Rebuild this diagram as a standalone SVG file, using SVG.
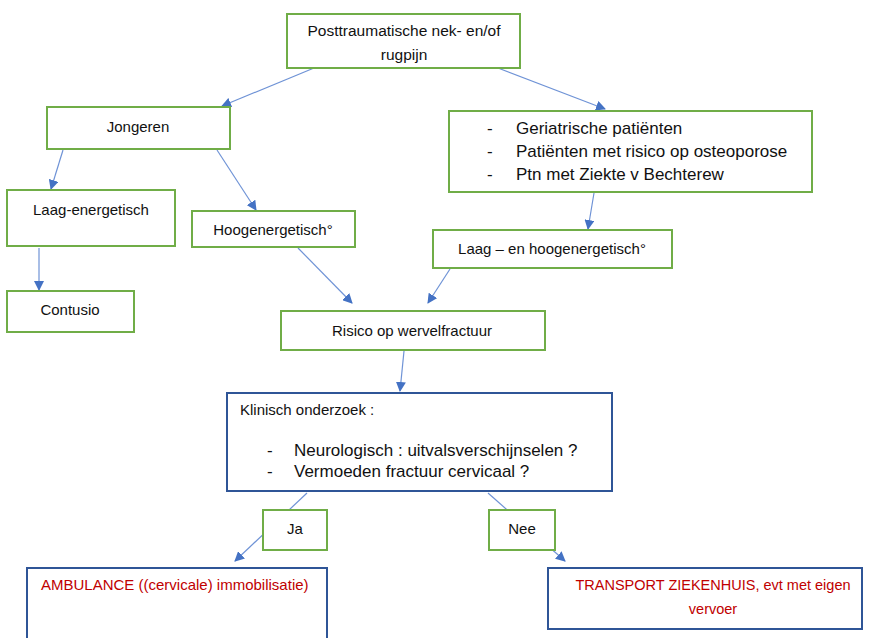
<svg xmlns="http://www.w3.org/2000/svg" width="870" height="638" viewBox="0 0 870 638">
  <defs>
    <marker id="arrow" markerWidth="10" markerHeight="10" refX="9" refY="5" orient="auto" markerUnits="userSpaceOnUse">
      <path d="M0,0 L10,5 L0,10 Z" fill="#4472c4"/>
    </marker>
  </defs>
  <style>
    .green { fill: #ffffff; stroke: #70ad47; stroke-width: 2; }
    .blue { fill: #ffffff; stroke: #2f5597; stroke-width: 2; }
    .t { font-family: "Liberation Sans", Arial, sans-serif; font-size: 15px; fill: #111111; }
    .tc { text-anchor: middle; }
    .big { font-size: 17px; }
    .red { fill: #c00000; }
    .edge { stroke: #6f93d6; stroke-width: 1.2; fill: none; marker-end: url(#arrow); }
  </style>
  <rect width="870" height="638" fill="#ffffff"/>

  <!-- connectors -->
  <g id="connectors">
    <line class="edge" x1="314" y1="68" x2="222" y2="106"/>
    <line class="edge" x1="498" y1="68" x2="605" y2="109"/>
    <line class="edge" x1="63" y1="150" x2="51" y2="189"/>
    <line class="edge" x1="217" y1="150" x2="256" y2="210"/>
    <line class="edge" x1="39" y1="248" x2="39" y2="290"/>
    <line class="edge" x1="594" y1="193" x2="588" y2="229"/>
    <line class="edge" x1="298" y1="248" x2="352" y2="303"/>
    <line class="edge" x1="450" y1="269" x2="428" y2="303"/>
    <line class="edge" x1="404" y1="351" x2="400" y2="391"/>
    <line class="edge" x1="307" y1="493" x2="235" y2="561"/>
    <line class="edge" x1="488" y1="493" x2="565" y2="561"/>
  </g>

  <g id="posttraumatisch">
    <rect class="green" x="287" y="14" width="233" height="54"/>
    <text class="t tc" x="404" y="36" style="font-size:15.5px">Posttraumatische nek- en/of</text>
    <text class="t tc" x="404" y="60" style="font-size:15.5px">rugpijn</text>
  </g>

  <g id="jongeren">
    <rect class="green" x="47" y="107" width="183" height="42"/>
    <text class="t tc" x="138" y="132">Jongeren</text>
  </g>

  <g id="risicogroepen">
    <rect class="green" x="449" y="111" width="363" height="81"/>
    <text class="t big" x="487" y="134">-</text>
    <text class="t big" x="516" y="134">Geriatrische patiënten</text>
    <text class="t big" x="487" y="157">-</text>
    <text class="t big" x="516" y="157">Patiënten met risico op osteoporose</text>
    <text class="t big" x="487" y="180">-</text>
    <text class="t big" x="516" y="180">Ptn met Ziekte v Bechterew</text>
  </g>

  <g id="laag-energetisch">
    <rect class="green" x="7" y="190" width="168" height="56"/>
    <text class="t tc" x="91" y="215">Laag-energetisch</text>
  </g>

  <g id="hoogenergetisch">
    <rect class="green" x="192" y="211" width="163" height="36"/>
    <text class="t tc" x="273" y="235">Hoogenergetisch°</text>
  </g>

  <g id="laag-en-hoog">
    <rect class="green" x="433" y="230" width="239" height="38"/>
    <text class="t tc" x="552" y="254">Laag – en hoogenergetisch°</text>
  </g>

  <g id="contusio">
    <rect class="green" x="7" y="291" width="127" height="41"/>
    <text class="t tc" x="70" y="315">Contusio</text>
  </g>

  <g id="risico">
    <rect class="green" x="281" y="311" width="264" height="39"/>
    <text class="t tc" x="412" y="336">Risico op wervelfractuur</text>
  </g>

  <g id="klinisch-onderzoek">
    <rect class="blue" x="227" y="393" width="385" height="98"/>
    <text class="t" x="240" y="415">Klinisch onderzoek :</text>
    <text class="t big" x="267" y="456">-</text>
    <text class="t big" x="294" y="456">Neurologisch : uitvalsverschijnselen ?</text>
    <text class="t big" x="267" y="477">-</text>
    <text class="t big" x="294" y="477">Vermoeden fractuur cervicaal ?</text>
  </g>

  <g id="ja">
    <rect class="green" x="263" y="510" width="64" height="40"/>
    <text class="t tc" x="295" y="534">Ja</text>
  </g>

  <g id="nee">
    <rect class="green" x="489" y="510" width="66" height="40"/>
    <text class="t tc" x="522" y="534">Nee</text>
  </g>

  <g id="ambulance">
    <rect class="blue" x="27" y="568" width="300" height="80"/>
    <text class="t red" x="41" y="590">AMBULANCE ((cervicale) immobilisatie)</text>
  </g>

  <g id="transport">
    <rect class="blue" x="548" y="568" width="314" height="61"/>
    <text class="t tc red" x="713" y="590" style="font-size:14.5px">TRANSPORT ZIEKENHUIS, evt met eigen</text>
    <text class="t tc red" x="713" y="614" style="font-size:14.5px">vervoer</text>
  </g>
</svg>
